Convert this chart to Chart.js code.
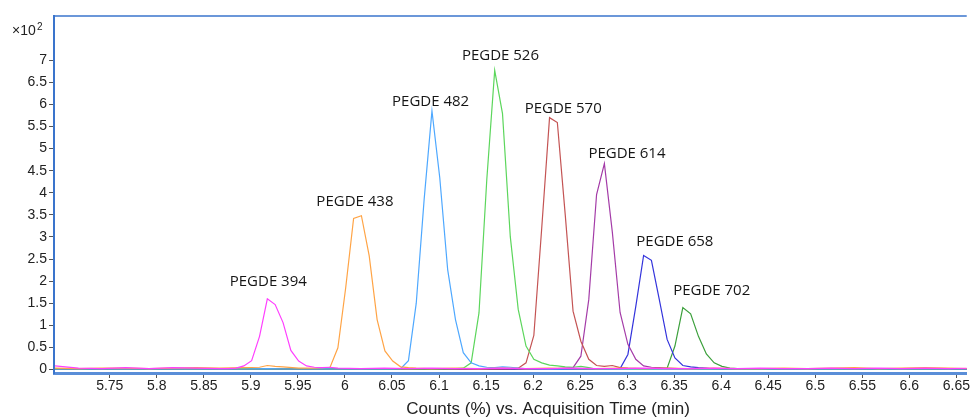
<!DOCTYPE html>
<html lang="en">

<head>
  <meta charset="utf-8">
  <title>PEGDE EIC overlay</title>
  <script src="https://cdn.jsdelivr.net/npm/chart.js@4.4.1/dist/chart.umd.min.js"></script>
  <style>
    html, body { margin: 0; padding: 0; background: #fff; }
    #wrap { width: 970px; height: 418px; position: relative; }
  </style>
</head>

<body>
  <div id="wrap"><canvas id="chart-eic" width="970" height="418"></canvas></div>

  <script>
    // axis ticks (counts in units of x10^2)
    var xTicks = [5.75, 5.8, 5.85, 5.9, 5.95, 6, 6.05, 6.1, 6.15, 6.2, 6.25, 6.3, 6.35, 6.4, 6.45, 6.5, 6.55, 6.6, 6.65];
    var xTickLabels = ['5.75', '5.8', '5.85', '5.9', '5.95', '6', '6.05', '6.1', '6.15', '6.2', '6.25', '6.3', '6.35', '6.4', '6.45', '6.5', '6.55', '6.6', '6.65'];
    var yTicks = [0, 0.5, 1, 1.5, 2, 2.5, 3, 3.5, 4, 4.5, 5, 5.5, 6, 6.5, 7];
    var yTickLabels = ['0', '0.5', '1', '1.5', '2', '2.5', '3', '3.5', '4', '4.5', '5', '5.5', '6', '6.5', '7'];

    var names = ['PEGDE 394', 'PEGDE 438', 'PEGDE 482', 'PEGDE 526', 'PEGDE 570', 'PEGDE 614', 'PEGDE 658', 'PEGDE 702'];

    // baseline sampling (min); null = covered by the peak samples
    var baseTimes = [5.6917, 5.7167, 5.7417, 5.7667, 5.7917, 5.8167, 5.8417, 5.8667, 5.8917, 5.9167,
      5.9417, 5.9667, 5.9917, 6.0167, 6.0417, 6.0667, 6.0917, 6.1167, 6.1417, 6.1667,
      6.1917, 6.2167, 6.2417, 6.2667, 6.2917, 6.3167, 6.3417, 6.3667, 6.3917, 6.4167,
      6.4417, 6.4667, 6.4917, 6.5167, 6.5417, 6.5667, 6.5917, 6.6167, 6.6417, 6.6667];

    var base394 = [0.08, 0.03, 0.02, 0.04, 0.02, 0.04, 0.03, 0.02, null, null, null, null, null, 0.02, 0.03, 0.02, 0.03, 0.02, 0.02, 0.03, 0.02, 0.02, 0.03, 0.02, 0.02, 0.03, 0.02, 0.02, 0.03, 0.02, 0.03, 0.02, 0.02, 0.03, 0.02, 0.03, 0.02, 0.03, 0.02, 0.03];
    var t394 = [5.8758, 5.8842, 5.8925, 5.9008, 5.9092, 5.9175, 5.9258, 5.9342, 5.9425, 5.9508, 5.9592, 5.9675, 5.9758, 5.9842, 5.9925];
    var v394 = [0.02, 0.03, 0.08, 0.2, 0.75, 1.6, 1.47, 1.06, 0.43, 0.19, 0.08, 0.05, 0.04, 0.05, 0.03];

    var base438 = [0.03, 0.02, 0.03, 0.03, 0.02, 0.03, 0.04, 0.03, 0.04, null, null, null, null, null, null, null, 0.02, 0.03, 0.02, 0.03, 0.02, 0.03, 0.02, 0.02, 0.03, 0.02, 0.03, 0.02, 0.03, 0.02, 0.02, 0.03, 0.02, 0.03, 0.04, 0.02, 0.03, 0.04, 0.03, 0.02];
    var t438 = [5.9092, 5.9175, 5.9258, 5.9342, 5.9508, 5.9675, 5.9758, 5.9842, 5.9925, 6.0008, 6.0092, 6.0175, 6.0258, 6.0342, 6.0425, 6.0508, 6.0592, 6.0675, 6.0758];
    var v438 = [0.05, 0.09, 0.07, 0.06, 0.03, 0.03, 0.04, 0.05, 0.49, 1.85, 3.42, 3.48, 2.57, 1.13, 0.42, 0.19, 0.06, 0.04, 0.03];

    var base482 = [0.01, 0.02, 0.01, 0.02, 0.01, 0.02, 0.01, 0.02, 0.01, 0.02, 0.01, 0.02, 0.01, 0.02, 0.01, null, null, null, null, null, 0.02, 0.01, 0.02, 0.01, 0.02, 0.01, 0.02, 0.01, 0.02, 0.01, 0.02, 0.01, 0.02, 0.01, 0.02, 0.01, 0.02, 0.01, 0.02, 0.01];
    var t482 = [6.0508, 6.0592, 6.0675, 6.0758, 6.0842, 6.0925, 6.1008, 6.1092, 6.1175, 6.1258, 6.1342, 6.1425, 6.1508, 6.1592, 6.1675, 6.1758, 6.1842];
    var v482 = [0.01, 0.02, 0.2, 1.5, 3.85, 5.85, 4.34, 2.26, 1.13, 0.38, 0.15, 0.08, 0.05, 0.04, 0.06, 0.05, 0.03];

    var base526 = [0.01, 0.01, 0.02, 0.01, 0.01, 0.02, 0.01, 0.01, 0.02, 0.01, 0.01, 0.02, 0.01, 0.01, 0.02, 0.01, 0.01, 0.02, null, null, null, null, null, 0.01, 0.02, 0.01, 0.01, 0.02, 0.01, 0.01, 0.02, 0.01, 0.01, 0.02, 0.01, 0.01, 0.02, 0.01, 0.01, 0.02];
    var t526 = [6.1175, 6.1258, 6.1342, 6.1425, 6.1508, 6.1592, 6.1675, 6.1758, 6.1842, 6.1925, 6.2008, 6.2092, 6.2175, 6.2258, 6.2342, 6.2425, 6.2508, 6.2592];
    var v526 = [0.02, 0.03, 0.15, 1.28, 4.3, 6.77, 5.79, 3.0, 1.36, 0.53, 0.23, 0.15, 0.1, 0.08, 0.06, 0.05, 0.07, 0.04];

    var base570 = [0.02, 0.01, 0.01, 0.02, 0.01, 0.01, 0.02, 0.01, 0.01, 0.02, 0.01, 0.01, 0.02, 0.01, 0.01, 0.02, 0.01, 0.01, 0.02, 0.01, null, null, null, null, null, 0.02, 0.01, 0.01, 0.02, 0.01, 0.01, 0.02, 0.01, 0.01, 0.02, 0.01, 0.01, 0.02, 0.01, 0.01];
    var t570 = [6.1758, 6.1842, 6.1925, 6.2008, 6.2092, 6.2175, 6.2258, 6.2342, 6.2425, 6.2508, 6.2592, 6.2675, 6.2758, 6.2842, 6.2925, 6.3008];
    var v570 = [0.02, 0.03, 0.15, 0.77, 3.2, 5.7, 5.59, 3.5, 1.32, 0.64, 0.23, 0.09, 0.07, 0.09, 0.04, 0.03];

    var base614 = [0.01, 0.02, 0.01, 0.01, 0.02, 0.01, 0.02, 0.01, 0.01, 0.02, 0.01, 0.02, 0.01, 0.01, 0.02, 0.01, 0.02, 0.01, 0.01, 0.02, 0.01, 0.02, null, null, null, null, null, 0.01, 0.02, 0.01, 0.01, 0.02, 0.01, 0.02, 0.01, 0.01, 0.02, 0.01, 0.02, 0.01];
    var t614 = [6.2258, 6.2342, 6.2425, 6.2508, 6.2592, 6.2675, 6.2758, 6.2842, 6.2925, 6.3008, 6.3092, 6.3175, 6.3258, 6.3342, 6.3425];
    var v614 = [0.02, 0.03, 0.04, 0.3, 1.58, 3.96, 4.66, 3.12, 1.29, 0.57, 0.23, 0.08, 0.05, 0.04, 0.03];

    var base658 = [0.01, 0.0, 0.01, 0.01, 0.0, 0.01, 0.01, 0.0, 0.01, 0.01, 0.0, 0.01, 0.01, 0.0, 0.01, 0.01, 0.0, 0.01, 0.01, 0.0, 0.01, 0.01, 0.0, 0.01, null, null, null, null, 0.01, 0.0, 0.01, 0.01, 0.0, 0.01, 0.01, 0.0, 0.01, 0.01, 0.0, 0.01];
    var t658 = [6.2842, 6.2925, 6.3008, 6.3092, 6.3175, 6.3258, 6.3342, 6.3425, 6.3508, 6.3592, 6.3675, 6.3758, 6.3842];
    var v658 = [0.02, 0.02, 0.34, 1.43, 2.58, 2.47, 1.58, 0.68, 0.26, 0.09, 0.06, 0.04, 0.03];

    var base702 = [0.01, 0.01, 0.0, 0.01, 0.01, 0.0, 0.01, 0.01, 0.0, 0.01, 0.01, 0.0, 0.01, 0.01, 0.0, 0.01, 0.01, 0.0, 0.01, 0.01, 0.0, 0.01, 0.01, 0.0, 0.01, 0.01, null, null, null, null, 0.01, 0.0, 0.01, 0.01, 0.0, 0.01, 0.01, 0.0, 0.01, 0.01];
    var t702 = [6.3342, 6.3425, 6.3508, 6.3592, 6.3675, 6.3758, 6.3842, 6.3925, 6.4008, 6.4092, 6.4175];
    var v702 = [0.02, 0.03, 0.53, 1.4, 1.26, 0.75, 0.35, 0.15, 0.07, 0.03, 0.02];

    var colors = ['#ff40ff', '#ffa446', '#4ea8ff', '#5cd65c', '#c45454', '#a43ca8', '#3434dc', '#3ca03c'];

    // where each compound name sits (data units, text baseline)
    var labelX = [5.9185, 6.0106, 6.0911, 6.1653, 6.232, 6.2998, 6.3507, 6.3899];
    var labelY = [1.89, 3.70, 5.96, 7.01, 5.81, 4.79, 2.80, 1.69];

    function buildSeries(base, pt, pv) {
      var pts = [];
      baseTimes.forEach(function (t, i) {
        if (base[i] !== null) pts.push({ x: t, y: base[i] });
      });
      pt.forEach(function (t, i) {
        pts.push({ x: t, y: pv[i] });
      });
      pts.sort(function (a, b) { return a.x - b.x; });
      return pts;
    }

    var seriesData = [
      buildSeries(base394, t394, v394),
      buildSeries(base438, t438, v438),
      buildSeries(base482, t482, v482),
      buildSeries(base526, t526, v526),
      buildSeries(base570, t570, v570),
      buildSeries(base614, t614, v614),
      buildSeries(base658, t658, v658),
      buildSeries(base702, t702, v702)
    ];

    var tickFont = { family: "'Liberation Sans', Arial, sans-serif", size: 14 };

    var decor = {
      id: 'decor',
      afterDraw: function (chart) {
        var ctx = chart.ctx;
        var a = chart.chartArea;
        var xs = chart.scales.x, ys = chart.scales.y;
        ctx.save();
        // top frame line
        ctx.strokeStyle = '#3a74cc';
        ctx.lineWidth = 1.5;
        ctx.beginPath();
        ctx.moveTo(a.left, a.top);
        ctx.lineTo(a.right, a.top);
        ctx.stroke();

        // x10^2 multiplier
        ctx.fillStyle = '#222';
        ctx.textBaseline = 'alphabetic';
        ctx.textAlign = 'left';
        ctx.font = "14px 'Liberation Sans', Arial, sans-serif";
        ctx.fillText('\u00d710', 12, 35);
        ctx.font = "10px 'Liberation Sans', Arial, sans-serif";
        ctx.fillText('2', 37, 30);

        // axis title
        ctx.font = "17px 'Liberation Sans', Arial, sans-serif";
        ctx.textAlign = 'center';
        ctx.fillText('Counts (%) vs. Acquisition Time (min)', 548, 414);

        // compound names
        ctx.font = "15px 'Open Sans', sans-serif";
        ctx.fillStyle = '#151515';
        names.forEach(function (n, i) {
          ctx.fillText(n, xs.getPixelForValue(labelX[i]), ys.getPixelForValue(labelY[i]));
        });
        ctx.restore();
      }
    };

    new Chart(document.getElementById('chart-eic'), {
      type: 'line',
      data: {
        datasets: seriesData.map(function (d, i) {
          return {
            label: names[i],
            data: d,
            borderColor: colors[i],
            borderWidth: 1.2,
            pointRadius: 0,
            tension: 0,
            fill: false
          };
        })
      },
      options: {
        responsive: false,
        animation: false,
        devicePixelRatio: 1,
        layout: { padding: { top: 16, right: 0, bottom: 0, left: 0 }, autoPadding: false },
        plugins: { legend: { display: false }, tooltip: { enabled: false } },
        scales: {
          x: {
            type: 'linear',
            min: 5.6907,
            max: 6.661,
            afterBuildTicks: function (s) {
              s.ticks = xTicks.map(function (v) { return { value: v }; });
            },
            afterFit: function (s) { s.height = 45; },
            ticks: {
              autoSkip: false,
              maxRotation: 0,
              padding: 0,
              color: '#222',
              font: tickFont,
              callback: function (v, i) { return xTickLabels[i]; }
            },
            grid: { drawOnChartArea: false, drawTicks: true, tickLength: 5, color: '#555' },
            border: { display: true, color: '#5a8ed8', width: 3 }
          },
          y: {
            min: -0.08,
            max: 8,
            afterBuildTicks: function (s) {
              s.ticks = yTicks.map(function (v) { return { value: v }; });
            },
            afterFit: function (s) { s.width = 54; },
            ticks: {
              padding: 2,
              color: '#222',
              font: tickFont,
              callback: function (v, i) { return yTickLabels[i]; }
            },
            grid: { drawOnChartArea: false, drawTicks: true, tickLength: 5, color: '#555' },
            border: { display: true, color: '#3a74cc', width: 2 }
          }
        }
      },
      plugins: [decor]
    });
  </script>
</body>

</html>
